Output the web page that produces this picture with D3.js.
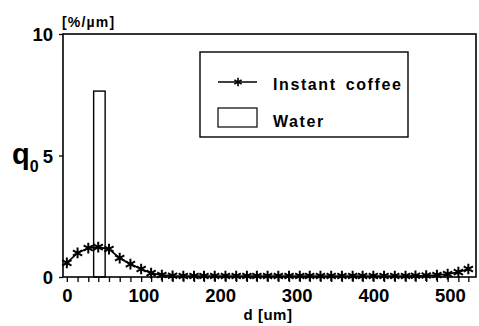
<!DOCTYPE html>
<html>
<head>
<meta charset="utf-8">
<script src="https://cdn.jsdelivr.net/npm/d3@7"></script>
<style>
  html, body { margin: 0; padding: 0; background: #fff; }
  svg { display: block; }
  text { font-family: "Liberation Sans", Arial, Helvetica, sans-serif; font-weight: bold; fill: #000; }
</style>
</head>
<body>
<svg id="chart" width="479" height="326"></svg>
<script>
// Particle size distribution q0 (%/µm) versus diameter d (µm)
const coffeeD = [0, 14, 28, 41, 55, 69, 83, 97, 110, 124, 138, 152, 166, 179, 193, 207, 221, 235, 248, 262,
                 276, 290, 304, 317, 331, 345, 359, 373, 386, 400, 414, 428, 442, 455, 469, 483, 497, 511, 524];
const coffeeQ = [0.58, 0.99, 1.19, 1.23, 1.15, 0.78, 0.53, 0.33, 0.16, 0.08, 0.05, 0.04, 0.04, 0.04, 0.04, 0.04, 0.04, 0.04, 0.04, 0.04,
                 0.04, 0.04, 0.04, 0.04, 0.04, 0.04, 0.04, 0.04, 0.04, 0.04, 0.04, 0.04, 0.04, 0.05, 0.06, 0.08, 0.12, 0.2, 0.33];

// Water: a single narrow class
const waterFrom = [35];
const waterTo = [50];
const waterQ = [7.65];

const xTickLabels = [0, 100, 200, 300, 400, 500];
const yTickLabels = [0, 5, 10];
const seriesNames = ["Instant coffee", "Water"];

const svg = d3.select("#chart");
const plotL = 63, plotR = 476, plotT = 34, plotB = 277;

const x = d3.scaleLinear().domain([-5, 534]).range([plotL, plotR]);
const y = d3.scaleLinear().domain([0, 10]).range([plotB, plotT]);

// Water bar
svg.append("g").selectAll("rect")
  .data(waterQ.map((q, i) => ({ x0: waterFrom[i], x1: waterTo[i], q })))
  .join("rect")
  .attr("x", d => x(d.x0))
  .attr("y", d => y(d.q))
  .attr("width", d => x(d.x1) - x(d.x0))
  .attr("height", d => y(0) - y(d.q))
  .attr("fill", "none")
  .attr("stroke", "#000")
  .attr("stroke-width", 1.4);

// Instant coffee line with asterisk markers
const pts = coffeeD.map((d, i) => [d, coffeeQ[i]]);
svg.append("path")
  .datum(pts)
  .attr("fill", "none")
  .attr("stroke", "#000")
  .attr("stroke-width", 1.7)
  .attr("d", d3.line().x(d => x(d[0])).y(d => y(d[1])));

const star = d3.symbol().type(d3.symbolAsterisk).size(80);
svg.append("g").selectAll("path")
  .data(pts)
  .join("path")
  .attr("transform", d => `translate(${x(d[0])},${y(d[1])})`)
  .attr("d", star)
  .attr("fill", "none")
  .attr("stroke", "#000")
  .attr("stroke-width", 2);

// Frame
svg.append("rect")
  .attr("x", plotL).attr("y", plotT)
  .attr("width", plotR - plotL).attr("height", plotB - plotT)
  .attr("fill", "none").attr("stroke", "#000").attr("stroke-width", 1.6);

// X axis: small ticks at each class, labels every 100
const xMinor = svg.append("g").attr("transform", `translate(0,${plotB})`)
  .call(d3.axisBottom(x).tickValues(coffeeD).tickSize(5).tickFormat(""));
xMinor.select(".domain").remove();
xMinor.selectAll("line").attr("stroke-width", 1.3);

const xLab = svg.append("g").attr("transform", `translate(0,${plotB})`)
  .call(d3.axisBottom(x).tickValues(xTickLabels).tickSize(0).tickPadding(12));
xLab.select(".domain").remove();
xLab.selectAll("text").attr("font-size", 18.5).attr("font-family", null).attr("dy", "0.71em");

// Y axis
const yAx = svg.append("g").attr("transform", `translate(${plotL},0)`)
  .call(d3.axisLeft(y).tickValues(yTickLabels).tickSize(4).tickPadding(6));
yAx.select(".domain").remove();
yAx.selectAll("line").attr("stroke-width", 1.3);
yAx.selectAll("text").attr("font-size", 18.5).attr("font-family", null).attr("dy", "0.36em");

// Axis titles
svg.append("text").attr("x", 62).attr("y", 27).attr("font-size", 14).attr("letter-spacing", 1.2).text("[%/µm]");
const qt = svg.append("text").attr("x", 12).attr("y", 164).attr("font-size", 29);
qt.append("tspan").text("q");
qt.append("tspan").attr("font-size", 16).attr("dy", 8).attr("dx", 0).text("0");
svg.append("text").attr("x", 268).attr("y", 320).attr("font-size", 15).attr("letter-spacing", 0.5)
  .attr("text-anchor", "middle").text("d [um]");

// Legend
const lg = svg.append("g");
lg.append("rect").attr("x", 200).attr("y", 52).attr("width", 208).attr("height", 85)
  .attr("fill", "#fff").attr("stroke", "#000").attr("stroke-width", 1.4);
lg.append("line").attr("x1", 218).attr("x2", 257).attr("y1", 82).attr("y2", 82)
  .attr("stroke", "#000").attr("stroke-width", 1.4);
lg.append("path").attr("transform", "translate(238,82)").attr("d", d3.symbol().type(d3.symbolAsterisk).size(50))
  .attr("fill", "none").attr("stroke", "#000").attr("stroke-width", 1.6);
lg.append("rect").attr("x", 218).attr("y", 108).attr("width", 39).attr("height", 19)
  .attr("fill", "none").attr("stroke", "#000").attr("stroke-width", 1.2);
lg.selectAll("text.lt")
  .data(seriesNames)
  .join("text")
  .attr("class", "lt")
  .attr("x", 273)
  .attr("y", (d, i) => i === 0 ? 90 : 127)
  .attr("font-size", 16)
  .attr("letter-spacing", 1.6)
  .attr("word-spacing", 3)
  .text(d => d);
</script>
</body>
</html>
